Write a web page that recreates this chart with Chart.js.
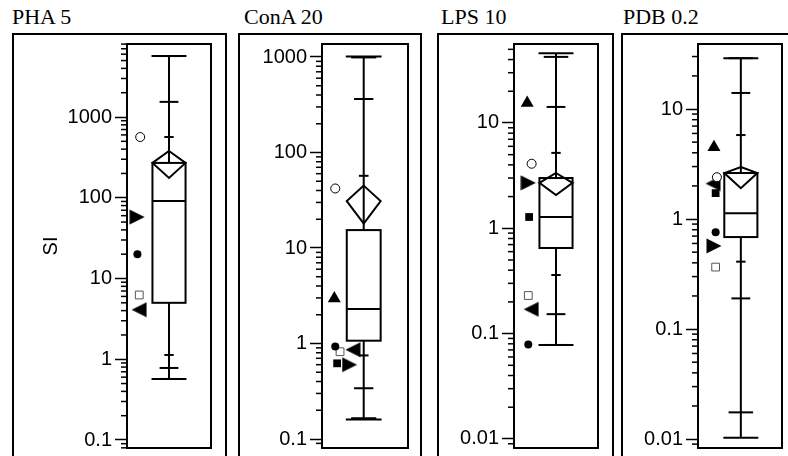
<!DOCTYPE html>
<html>
<head>
<meta charset="utf-8">
<script src="https://cdn.jsdelivr.net/npm/chart.js@4"></script>
<style>
body{margin:0;background:#fff;overflow:hidden;width:788px;height:456px;position:relative}
.frame{position:absolute;top:33px;height:500px;border:2px solid #000;border-bottom:none;box-sizing:border-box}
.title{position:absolute;top:6px;font:22px/22px "Liberation Serif",serif;color:#000;white-space:nowrap}
canvas{position:absolute;top:4px}
</style>
</head>
<body>
<script>
// panels
var panels=['PHA 5','ConA 20','LPS 10','PDB 0.2'];
var tickLabels=[['0.1','1','10','100','1000'],['0.1','1','10','100','1000'],['0.01','0.1','1','10'],['0.01','0.1','1','10']];
var yMin=[0.0796,0.0805,0.0082,0.0083];
var yMax=[8020,1368,56.2,39];

// quantiles of SI for each panel
var qMax=[5690,1010,46,29];
var q995=[5690,990,42.4,29];
var q975=[1540,363,14.2,14];
var q90=[565,57,5.2,5.8];
var q75=[270,15.4,3.0,2.62];
var q50=[91,2.3,1.28,1.13];
var q25=[5.0,1.07,0.65,0.686];
var q10=[1.13,0.75,0.36,0.41];
var q025=[0.78,0.34,0.153,0.19];
var q005=[0.57,0.165,0.078,0.0175];
var qMin=[0.57,0.16,0.078,0.0103];
// means diamond
var meanHi=[380,45,3.35,2.97];
var mean=[270,31,2.7,2.62];
var meanLo=[176,18,2.07,1.91];

// individual animals
var openCircle=[565,42,4.1,2.4];
var rightTri=[57.7,0.60,2.7,0.57];
var filledCircle=[20,0.93,0.079,0.76];
var openSquare=[6.25,0.82,0.23,0.366];
var leftTri=[4.1,0.86,0.17,2.1];
var upTri=[null,2.96,15.5,4.5];
var filledSquare=[null,0.62,1.28,1.72];

// layout
var frameLeft=[13,239,438,622];
var frameRight=[226,421,613,900];
var plotLeft=[127,322,514,698];
var plotRight=[216,413,603,787];
var titleLeft=[12,244,441,623];
var boxCenter=[0.5,0.485,0.5,0.51];

function side_triangle()
{
    // right pointing triangle, rotated for the left one
    let c=document.createElement('canvas');
    c.width=16;
    c.height=16;
    let g=c.getContext('2d');
    g.fillStyle='#000';
    g.beginPath();
    g.moveTo(0.5,0.5);
    g.lineTo(15.5,8);
    g.lineTo(0.5,15.5);
    g.closePath();
    g.fill();
    return c;
}
var sideTri=side_triangle();

var markers=[
    {data:openCircle,x:[0.157,0.154,0.21,0.225],style:'circle',r:4.5,bg:'#fff',bc:'#000',bw:1,rot:0},
    {data:rightTri,x:[0.12,0.32,0.17,0.19],style:sideTri,r:8,bg:'#000',bc:'#000',bw:0,rot:0},
    {data:filledCircle,x:[0.124,0.154,0.17,0.21],style:'circle',r:4,bg:'#000',bc:'#000',bw:0,rot:0},
    {data:openSquare,x:[0.146,0.21,0.17,0.21],style:'rect',r:5.5,bg:'#fff',bc:'#555',bw:1,rot:0},
    {data:leftTri,x:[0.145,0.36,0.205,0.18],style:sideTri,r:8,bg:'#000',bc:'#000',bw:0,rot:180},
    {data:upTri,x:[0,0.143,0.157,0.19],style:'triangle',r:7.5,bg:'#000',bc:'#000',bw:0,rot:0},
    {data:filledSquare,x:[0,0.176,0.18,0.21],style:'rect',r:5.5,bg:'#000',bc:'#000',bw:0,rot:0}
];

var quantBox={
    id:'quantBox',
    beforeDatasetsDraw:function(chart,args,opts)
    {
        let i=opts.panel,ctx=chart.ctx,xs=chart.scales.x,ys=chart.scales.y,a=chart.chartArea;
        let cx=xs.getPixelForValue(boxCenter[i]);
        let half=function(f){return xs.getPixelForValue(boxCenter[i]+f)-cx;};
        let py=function(v){return ys.getPixelForValue(v);};
        let hline=function(v,hw)
        {
            ctx.beginPath();
            ctx.moveTo(cx-hw,py(v));
            ctx.lineTo(cx+hw,py(v));
            ctx.stroke();
        };
        ctx.save();
        ctx.strokeStyle='#000';
        ctx.lineWidth=2;
        ctx.beginPath();
        ctx.moveTo(cx,py(qMax[i]));
        ctx.lineTo(cx,py(q75[i]));
        ctx.moveTo(cx,py(q25[i]));
        ctx.lineTo(cx,py(qMin[i]));
        ctx.stroke();
        hline(qMax[i],half(0.208));
        hline(qMin[i],half(0.208));
        hline(q995[i],half(0.146));
        hline(q005[i],half(0.146));
        hline(q975[i],half(0.112));
        hline(q025[i],half(0.112));
        hline(q90[i],half(0.056));
        hline(q10[i],half(0.056));
        let bw=half(0.197);
        ctx.strokeRect(cx-bw,py(q75[i]),2*bw,py(q25[i])-py(q75[i]));
        hline(q50[i],bw);
        ctx.beginPath();
        ctx.moveTo(cx,py(meanHi[i]));
        ctx.lineTo(cx+bw,py(mean[i]));
        ctx.lineTo(cx,py(meanLo[i]));
        ctx.lineTo(cx-bw,py(mean[i]));
        ctx.closePath();
        ctx.stroke();
        ctx.strokeRect(a.left,a.top,a.right-a.left,a.bottom-a.top);
        // minor ticks
        ctx.lineWidth=1.5;
        ys.ticks.forEach(function(t)
        {
            if(t.major) return;
            let y=py(t.value);
            ctx.beginPath();
            ctx.moveTo(ys.right-6,y);
            ctx.lineTo(ys.right,y);
            ctx.stroke();
        });
        ctx.restore();
    }
};

function make_ticks(i,min,max)
{
    let ticks=[];
    for(let k=Math.floor(Math.log10(min));k<=Math.ceil(Math.log10(max));k++)
    {
        for(let m=1;m<=9;m++)
        {
            let v=Number(m+'e'+k);
            if(v>=min&&v<=max) ticks.push({value:v,major:m===1});
        }
    }
    return ticks;
}

function create_panel(i)
{
    let left=frameLeft[i]+3;
    let frame=document.createElement('div');
    frame.className='frame';
    frame.style.left=(frameLeft[i]-1)+'px';
    frame.style.width=(frameRight[i]-frameLeft[i]+2)+'px';
    document.body.appendChild(frame);
    let title=document.createElement('div');
    title.className='title';
    title.style.left=titleLeft[i]+'px';
    title.textContent=panels[i];
    document.body.appendChild(title);
    let cv=document.createElement('canvas');
    cv.width=plotRight[i]+3-left;
    cv.height=472;
    cv.style.left=left+'px';
    document.body.appendChild(cv);
    let datasets=markers.map(function(mk)
    {
        return {
            data:mk.data[i]==null?[]:[{x:mk.x[i],y:mk.data[i]}],
            pointStyle:mk.style,
            pointRadius:mk.r,
            pointRotation:mk.rot,
            pointBackgroundColor:mk.bg,
            pointBorderColor:mk.bc,
            pointBorderWidth:mk.bw,
            clip:false
        };
    });
    return new Chart(cv.getContext('2d'),{
        type:'scatter',
        data:{datasets:datasets},
        options:{
            responsive:false,
            animation:false,
            devicePixelRatio:1,
            layout:{padding:{top:40,bottom:28,left:0,right:3}},
            plugins:{legend:{display:false},tooltip:{enabled:false},quantBox:{panel:i}},
            scales:{
                x:{type:'linear',min:0,max:1,display:false},
                y:{
                    type:'logarithmic',
                    min:yMin[i],
                    max:yMax[i],
                    afterFit:function(s){s.width=plotLeft[i]-left;},
                    afterBuildTicks:function(s){s.ticks=make_ticks(i,yMin[i],yMax[i]);},
                    border:{display:false},
                    grid:{
                        drawOnChartArea:false,
                        tickLength:12,
                        tickWidth:1.5,
                        tickColor:function(c){return c.tick&&c.tick.major?'#000':'rgba(0,0,0,0)';}
                    },
                    ticks:{
                        autoSkip:false,
                        padding:3,
                        color:'#000',
                        font:{family:'Liberation Sans',size:20},
                        callback:function(v,idx,ts)
                        {
                            if(!ts[idx].major) return '';
                            return tickLabels[i].find(function(l){return Number(l)===v;})||'';
                        }
                    },
                    title:{
                        display:i===0,
                        text:'SI',
                        color:'#000',
                        font:{family:'Liberation Sans',size:20},
                        padding:{top:23,bottom:0}
                    }
                }
            }
        },
        plugins:[quantBox]
    });
}

window.onload=function()
{
    for(let i=0;i<panels.length;i++) create_panel(i);
}
</script>
</body>
</html>
